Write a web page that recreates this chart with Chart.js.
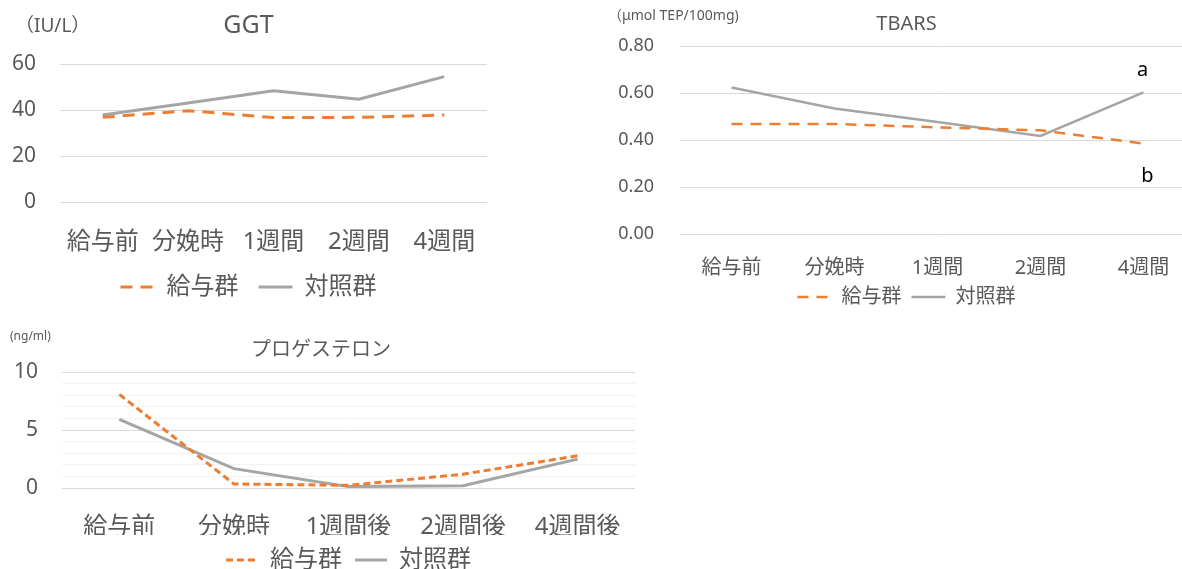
<!DOCTYPE html>
<html lang="ja">
<head>
<meta charset="utf-8">
<title>GGT / TBARS / プロゲステロン</title>
<script src="https://cdn.jsdelivr.net/npm/chart.js@4"></script>
<style>
  html, body { margin: 0; padding: 0; background: #fff; width: 1182px; height: 569px; overflow: hidden; }
  canvas { position: absolute; }
  #ggtChart { left: 0; top: 0; }
  #tbarsChart { left: 600px; top: 0; }
  #progChart { left: 0; top: 320px; }
</style>
</head>
<body>
<canvas id="ggtChart" width="500" height="309"></canvas>
<canvas id="tbarsChart" width="600" height="317"></canvas>
<canvas id="progChart" width="650" height="262"></canvas>

<script>
// series names
const groupNames = ['給与群', '対照群'];

// GGT (IU/L)
const ggtLabels = ['給与前', '分娩時', '1週間', '2週間', '4週間'];
const ggtFed = [36.8, 39.7, 36.7, 36.8, 37.8];
const ggtControl = [37.8, 43.0, 48.4, 44.7, 54.5];

// TBARS (μmol TEP/100mg)
const tbarsLabels = ['給与前', '分娩時', '1週間', '2週間', '4週間'];
const tbarsFed = [0.468, 0.468, 0.454, 0.441, 0.385];
const tbarsControl = [0.623, 0.534, 0.477, 0.417, 0.603];
const tbarsLetters = ['b', 'a'];   // significance letters at 4週間 (fed, control)

// progesterone (ng/ml)
const progLabels = ['給与前', '分娩時', '1週間後', '2週間後', '4週間後'];
const progFed = [8.07, 0.35, 0.23, 1.19, 2.78];
const progControl = [5.92, 1.67, 0.12, 0.20, 2.49];

const ORANGE = '#ED7D31';
const GRAY = '#A5A5A5';
const TEXT = '#595959';
const FONT = "'Noto Sans', 'Noto Sans CJK JP', sans-serif";

// unit text in the top-left corner
const unitLabel = {
    id: 'unitLabel',
    afterDraw(chart, args, opts) {
        if (!opts.text) return;
        const ctx = chart.ctx;
        ctx.save();
        ctx.fillStyle = TEXT;
        ctx.font = `${opts.size}px ${FONT}`;
        ctx.textBaseline = 'middle';
        ctx.textAlign = 'left';
        ctx.fillText(opts.text, opts.x, opts.y);
        ctx.restore();
    }
};

// letters next to the last point of each series
const sigLetters = {
    id: 'sigLetters',
    afterDatasetsDraw(chart, args, opts) {
        if (!opts.letters) return;
        const ctx = chart.ctx;
        ctx.save();
        ctx.fillStyle = '#000';
        ctx.font = `${opts.size}px ${FONT}`;
        ctx.textAlign = 'center';
        ctx.textBaseline = 'middle';
        opts.letters.forEach((letter, i) => {
            const pts = chart.getDatasetMeta(i).data;
            const last = pts[pts.length - 1];
            const off = opts.offsets[i];
            ctx.fillText(letter, last.x + off[0], last.y + off[1]);
        });
        ctx.restore();
    }
};

// legend entries keep the dataset's dash pattern on the line symbol
const dashedLegendLabels = chart =>
    Chart.defaults.plugins.legend.labels.generateLabels(chart).map(item => ({
        ...item,
        lineDash: chart.data.datasets[item.datasetIndex].borderDash || []
    }));

function buildChart(id, c) {
    const ctx = document.getElementById(id).getContext('2d');
    return new Chart(ctx, {
        type: 'line',
        data: {
            labels: c.labels,
            datasets: [
                {
                    label: groupNames[0],
                    data: c.fed,
                    borderColor: ORANGE,
                    backgroundColor: ORANGE,
                    borderWidth: c.lineWidth,
                    borderDash: c.dash,
                    pointRadius: 0,
                    tension: 0,
                    fill: false
                },
                {
                    label: groupNames[1],
                    data: c.control,
                    borderColor: GRAY,
                    backgroundColor: GRAY,
                    borderWidth: c.lineWidth,
                    pointRadius: 0,
                    tension: 0,
                    fill: false
                }
            ]
        },
        options: {
            responsive: false,
            animation: false,
            devicePixelRatio: 1,
            events: [],
            layout: { padding: { left: c.padLeft, right: c.padRight, top: 0, bottom: 0 } },
            plugins: {
                title: {
                    display: true,
                    text: c.title,
                    color: TEXT,
                    font: { family: FONT, size: c.titleSize, weight: 'normal' },
                    padding: { top: c.titleTop, bottom: c.titleBottom }
                },
                legend: {
                    position: 'bottom',
                    fullSize: c.legendFull,
                    labels: {
                        color: TEXT,
                        font: { family: FONT, size: c.legendSize },
                        usePointStyle: true,
                        pointStyle: 'line',
                        pointStyleWidth: c.legendLine,
                        padding: c.legendPad,
                        generateLabels: dashedLegendLabels
                    }
                },
                tooltip: { enabled: false },
                unitLabel: c.unit,
                sigLetters: c.letters || {}
            },
            scales: {
                x: {
                    offset: true,
                    grid: { display: false },
                    border: { display: false },
                    ticks: {
                        color: TEXT,
                        font: { family: FONT, size: c.xSize },
                        padding: c.xPad,
                        maxRotation: 0,
                        autoSkip: false
                    },
                    afterFit: s => { s.height = c.xHeight; }
                },
                y: {
                    min: c.yMin,
                    max: c.yMax,
                    border: { display: false },
                    grid: {
                        drawTicks: false,
                        lineWidth: 1,
                        color: c.gridColor || '#D9D9D9'
                    },
                    ticks: {
                        stepSize: c.step,
                        autoSkip: false,
                        color: TEXT,
                        font: { family: FONT, size: c.ySize },
                        padding: c.yPad,
                        callback: c.yFormat
                    },
                    afterFit: s => { s.width = c.yWidth; }
                }
            }
        },
        plugins: [unitLabel, sigLetters]
    });
}

buildChart('ggtChart', {
    labels: ggtLabels, fed: ggtFed, control: ggtControl,
    lineWidth: 3, dash: [12, 8],
    padLeft: 10, padRight: 13, yWidth: 50,
    title: 'GGT', titleSize: 25, titleTop: 11, titleBottom: 23,
    legendFull: true, legendSize: 24, legendLine: 34, legendPad: 20,
    xSize: 24, xPad: 18, xHeight: 53,
    yMin: 0, yMax: 60, step: 20, ySize: 21, yPad: 24,
    yFormat: v => v,
    unit: { text: '（IU/L）', x: 15, y: 27, size: 19 }
});

buildChart('tbarsChart', {
    labels: tbarsLabels, fed: tbarsFed, control: tbarsControl,
    lineWidth: 2.5, dash: [11, 8],
    padLeft: 18, padRight: 5, yWidth: 62,
    title: 'TBARS', titleSize: 20, titleTop: 12, titleBottom: 10,
    legendFull: true, legendSize: 20, legendLine: 34, legendPad: 10,
    xSize: 20, xPad: 14, xHeight: 43,
    yMin: 0, yMax: 0.8, step: 0.2, ySize: 18, yPad: 26,
    yFormat: v => Number(v).toFixed(2),
    unit: { text: '（μmol TEP/100mg)', x: 8, y: 16, size: 14 },
    letters: { letters: tbarsLetters, size: 20, offsets: [[4, 33], [-1, -22]] }
});

buildChart('progChart', {
    labels: progLabels, fed: progFed, control: progControl,
    lineWidth: 3, dash: [7, 4],
    padLeft: 7, padRight: 15, yWidth: 55,
    title: 'プロゲステロン', titleSize: 20, titleTop: 18, titleBottom: 10,
    legendFull: false, legendSize: 24, legendLine: 32, legendPad: 13,
    xSize: 24, xPad: 17, xHeight: 47,
    yMin: 0, yMax: 10, step: 1, ySize: 21, yPad: 24,
    yFormat: v => (v % 5 === 0 ? v : ''),
    gridColor: c => (c.tick && c.tick.value % 5 === 0 ? '#D9D9D9' : '#F2F2F2'),
    unit: { text: '(ng/ml)', x: 10, y: 17, size: 12 }
});
</script>
</body>
</html>
